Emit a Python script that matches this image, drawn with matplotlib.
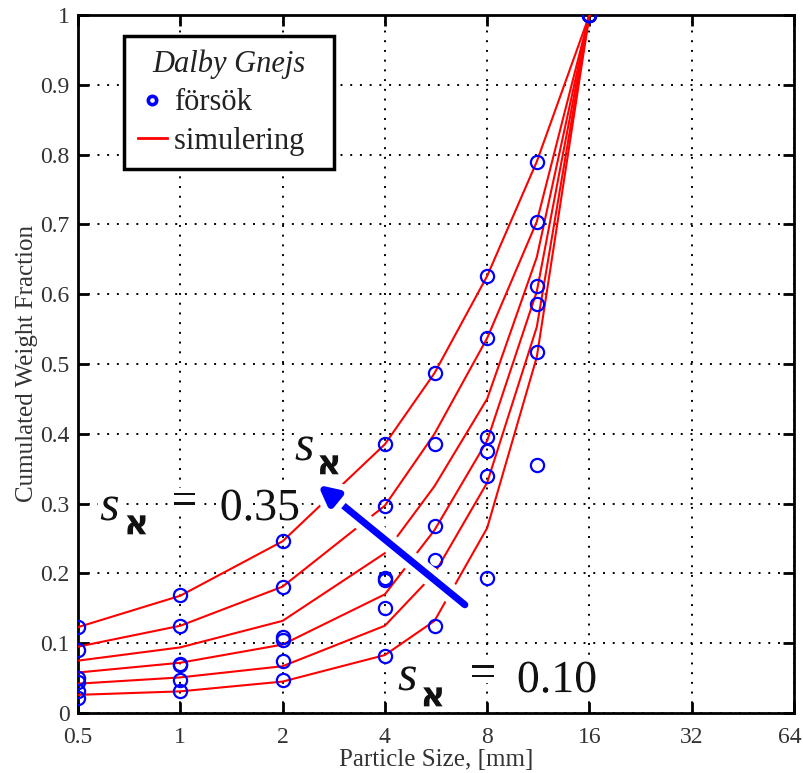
import matplotlib
matplotlib.use('Agg')
import matplotlib.pyplot as plt
import matplotlib.patheffects as pe
import matplotlib.transforms as mtransforms
from matplotlib.lines import Line2D
import numpy as np

# sieve sizes [mm]
sizes = [0.5, 1, 2, 4, 5.6, 8, 11.2, 16]

# simulated curves, s_alef from 0.35 (top) down to 0.10 (bottom)
sim_1 = [0.123, 0.168, 0.246, 0.385, 0.487, 0.626, 0.790, 1.0]
sim_2 = [0.095, 0.125, 0.181, 0.297, 0.400, 0.537, 0.704, 1.0]
sim_3 = [0.075, 0.094, 0.132, 0.229, 0.325, 0.450, 0.653, 1.0]
sim_4 = [0.058, 0.072, 0.098, 0.170, 0.262, 0.390, 0.604, 1.0]
sim_5 = [0.042, 0.051, 0.067, 0.125, 0.200, 0.330, 0.553, 1.0]
sim_6 = [0.026, 0.031, 0.045, 0.083, 0.132, 0.265, 0.510, 1.0]

# measured points, one list per sieve size
exp_05 = [0.123, 0.090, 0.050, 0.045, 0.031, 0.022]
exp_1 = [0.169, 0.125, 0.070, 0.069, 0.047, 0.032]
exp_2 = [0.246, 0.181, 0.109, 0.105, 0.074, 0.047]
exp_4 = [0.385, 0.296, 0.194, 0.191, 0.150, 0.082]
exp_56 = [0.487, 0.385, 0.268, 0.219, 0.124]
exp_8 = [0.626, 0.537, 0.396, 0.376, 0.339, 0.194]
exp_112 = [0.790, 0.704, 0.612, 0.586, 0.517, 0.355]
exp_16 = [1.0, 1.0, 1.0, 1.0, 1.0, 1.0]

xticks = [0.5, 1, 2, 4, 8, 16, 32, 64]
xticklabels = ['0.5', '1', '2', '4', '8', '16', '32', '64']
yticks = [0, 0.1, 0.2, 0.3, 0.4, 0.5, 0.6, 0.7, 0.8, 0.9, 1]
yticklabels = ['0', '0.1', '0.2', '0.3', '0.4', '0.5', '0.6', '0.7', '0.8', '0.9', '1']

serif = ['Liberation Serif', 'DejaVu Serif']
heb = ['DejaVu Sans', 'Liberation Serif']

plt.rcParams['font.family'] = serif

fig = plt.figure(figsize=(8.04, 7.73), dpi=100)
ax = fig.add_axes([78 / 804, 60 / 773, 716 / 804, 698 / 773])

sims = [sim_1, sim_2, sim_3, sim_4, sim_5, sim_6]
for s in sims:
    ax.plot(sizes, s, color='#ff0000', lw=1.5, zorder=3)

exps = [exp_05, exp_1, exp_2, exp_4, exp_56, exp_8, exp_112, exp_16]
for xs, ys in zip(sizes, exps):
    ax.plot([xs] * len(ys), ys, 'o', ms=9.5, mfc='none', mec='#0000ff', mew=1.6,
            zorder=4)

ax.set_xscale('log', base=2)
ax.set_xlim(0.5, 64)
ax.set_ylim(0, 1)
ax.set_xticks(xticks)
ax.set_xticklabels(xticklabels)
ax.set_yticks(yticks)
ax.set_yticklabels(yticklabels)
ax.minorticks_off()
ax.tick_params(direction='in', length=8, width=2, top=True, right=True,
               labelsize=17, pad=6, colors='black', labelcolor='#333333')
ax.tick_params(axis='x', pad=10)
for sp in ax.spines.values():
    sp.set_linewidth(2)
ax.grid(True, color='black', linestyle=(0, (1, 4)), lw=1.4)

# last x label sits right on the figure edge, pull it in a little
lab64 = ax.get_xticklabels()[-1]
lab64.set_transform(lab64.get_transform() +
                    mtransforms.ScaledTranslation(-4 / 100, 0, fig.dpi_scale_trans))

ax.set_xlabel('Particle Size, [mm]', fontsize=18, color='#333333', labelpad=1)
ax.set_ylabel('Cumulated Weight Fraction', fontsize=18, color='#333333', labelpad=2)

h_exp = Line2D([], [], ls='none', marker='o', ms=6, mfc='none', mec='#0000ff', mew=2.6)
h_sim = Line2D([], [], color='#ff0000', lw=2)
leg = ax.legend([h_exp, h_sim], ['försök', 'simulering  '],
                loc='upper left', bbox_to_anchor=(0.064, 0.970),
                title='Dalby Gnejs', fontsize=22, title_fontsize=22,
                handlelength=0.95, handletextpad=0.25, borderpad=0.45,
                labelspacing=0.3, fancybox=False, framealpha=1,
                edgecolor='black', borderaxespad=0)
leg.get_frame().set_linewidth(2.5)
leg.get_title().set_fontstyle('italic')
leg.get_title().set_color('#222222')
for t in leg.get_texts():
    t.set_color('#222222')
leg.set_zorder(10)

# arrow from s = 0.10 towards s = 0.35
arrow_tail = (6.88, 0.155)
arrow_head = (2.54, 0.327)
ax.annotate('', xy=arrow_head, xytext=arrow_tail,
            arrowprops=dict(arrowstyle='-|>', color='#0000ff', lw=5,
                            mutation_scale=28, shrinkA=0, shrinkB=0,
                            path_effects=[pe.withStroke(linewidth=14, foreground='white')]),
            zorder=6)

white = [pe.withStroke(linewidth=8, foreground='white')]
tkw = dict(transform=ax.transAxes, zorder=7, color='#111111')

# s_alef = 0.35
ax.text(0.031, 0.2765, 's', fontsize=36, style='italic', path_effects=white, **tkw)
ax.text(0.064, 0.256, 'א', fontsize=25, weight='bold', family=heb, path_effects=white, **tkw)
ax.text(0.131, 0.301, '=', fontsize=33, va='center', path_effects=white, **tkw)
ax.text(0.198, 0.2765, '0.35', fontsize=33, path_effects=white, **tkw)

# label at arrow head
ax.text(0.303, 0.3625, 's', fontsize=36, style='italic', path_effects=white, **tkw)
ax.text(0.333, 0.342, 'א', fontsize=25, weight='bold', family=heb, path_effects=white, **tkw)

# s_alef = 0.10
ax.text(0.447, 0.033, 's', fontsize=36, style='italic', path_effects=white, **tkw)
ax.text(0.478, 0.0095, 'א', fontsize=25, weight='bold', family=heb, path_effects=white, **tkw)
ax.text(0.5475, 0.0544, '=', fontsize=33, va='center', path_effects=white, **tkw)
ax.text(0.613, 0.030, '0.10', fontsize=33, path_effects=white, **tkw)

fig.savefig('out.png', dpi=100)
